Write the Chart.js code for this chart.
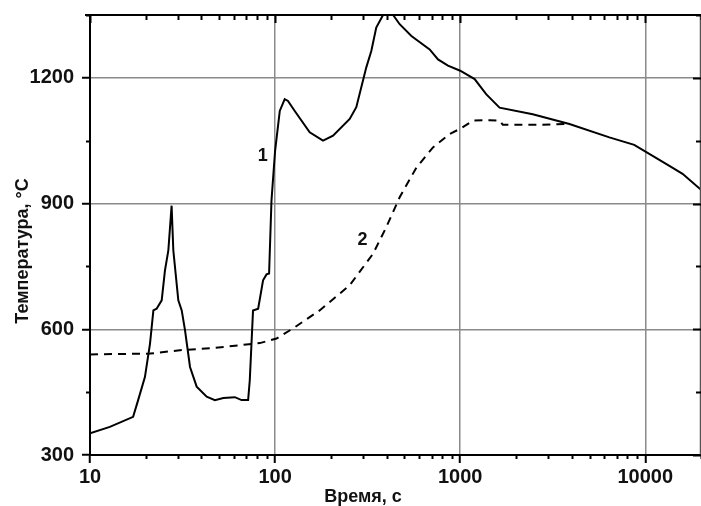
<!DOCTYPE html>
<html>
<head>
<meta charset="utf-8">
<script src="https://cdn.jsdelivr.net/npm/chart.js@4.4.1/dist/chart.umd.min.js"></script>
<style>
  html, body { margin: 0; padding: 0; background: #fff; }
  #wrap { width: 701px; height: 506px; position: relative; }
</style>
</head>
<body>
<div id="wrap"><canvas id="chart"></canvas></div>
<script>
// curve 1 (solid)
const time1 = [10, 12.8, 17.1, 18.2, 19.8, 21.1, 22.0, 22.9, 24.4, 25.4, 26.5, 27.6, 28.2, 30.0, 31.3, 32.6, 34.7, 37.7, 42.7, 47.3, 52.5, 60.6, 65.9, 71.5, 73.0, 76.0, 81, 86.1, 89.9, 92.8, 95.6, 100, 106, 112.7, 117.4, 127.7, 153.8, 181.5, 205.6, 253, 274.6, 311, 331, 352, 383, 434, 471, 545, 684, 759, 859, 1000, 1197, 1381, 1632, 2466, 3893, 6398, 8714, 10960, 13500, 15900, 20000];
const temp1 = [352, 367, 391, 431, 486, 566, 645, 649, 669, 740, 788, 895, 788, 669, 645, 598, 510, 463, 439, 431, 436, 438, 431, 431, 479, 645, 649, 717, 731, 733, 907, 1026, 1121, 1149, 1145, 1121, 1070, 1050, 1062, 1102, 1130, 1225, 1264, 1320, 1350, 1350, 1328, 1300, 1268, 1244, 1229, 1217, 1197, 1161, 1129, 1113, 1090, 1058, 1040, 1014, 990, 971, 933];
// curve 2 (dashed)
const time2 = [10, 21.1, 30.6, 46.3, 64.6, 82.7, 101.8, 125, 174, 253, 338, 399, 471, 580, 713, 877, 1014, 1172, 1443, 1632, 1700, 2570, 3900];
const temp2 = [540, 542, 550, 555, 562, 567, 578, 602, 645, 705, 780, 844, 915, 986, 1034, 1066, 1080, 1098, 1099, 1098, 1088, 1088, 1090];

const xMajor = [10, 100, 1000, 10000];
const xMinor = [20, 30, 40, 50, 60, 70, 80, 90, 200, 300, 400, 500, 600, 700, 800, 900,
                2000, 3000, 4000, 5000, 6000, 7000, 8000, 9000, 20000];
const yMajor = [300, 600, 900, 1200];
const yMinor = [450, 750, 1050, 1350];
const xTitle = 'Время, с';
const yTitle = 'Температура, °C';
const curveLabels = [{ text: '1', x: 85.8, y: 1014 }, { text: '2', x: 297, y: 812 }];

const fontFamily = '"Liberation Sans", Arial, sans-serif';
const tickFont = { family: fontFamily, size: 20, weight: 'bold' };
const gridGray = '#8a8a8a';

const pts = (xs, ys) => xs.map((x, i) => ({ x: x, y: ys[i] }));

const decorPlugin = {
  id: 'decor',
  afterDraw(chart) {
    const c = chart.ctx, a = chart.chartArea;
    const xs = chart.scales.x, ys = chart.scales.y;
    c.save();
    c.strokeStyle = '#000';
    c.lineWidth = 2;
    // top border and right border
    c.beginPath();
    c.moveTo(a.left - 5, a.top); c.lineTo(a.right, a.top);
    c.stroke();
    c.strokeStyle = '#555';
    c.lineWidth = 1.5;
    c.beginPath();
    c.moveTo(a.right - 0.5, a.top); c.lineTo(a.right - 0.5, a.bottom);
    c.stroke();
    c.strokeStyle = '#000';
    c.lineWidth = 2;
    c.beginPath();
    xMinor.forEach(v => {
      const p = Math.round(xs.getPixelForValue(v)) + 0.5;
      c.moveTo(p, a.bottom); c.lineTo(p, a.bottom + 4);
      c.moveTo(p, a.top); c.lineTo(p, a.top + 5);
    });
    xMajor.forEach(v => {
      const p = Math.round(xs.getPixelForValue(v)) + 0.5;
      c.moveTo(p, a.top); c.lineTo(p, a.top + 8);
    });
    yMinor.forEach(v => {
      const p = Math.round(ys.getPixelForValue(v)) + 0.5;
      c.moveTo(a.left, p); c.lineTo(a.left - 4, p);
      c.moveTo(a.right, p); c.lineTo(a.right - 5, p);
    });
    yMajor.forEach(v => {
      const p = Math.round(ys.getPixelForValue(v)) + 0.5;
      c.moveTo(a.right, p); c.lineTo(a.right - 8, p);
    });
    c.stroke();

    // titles
    c.fillStyle = '#111';
    c.font = 'bold 18px ' + fontFamily;
    c.textAlign = 'center';
    c.textBaseline = 'middle';
    c.fillText(xTitle, 363, 497);
    c.save();
    c.translate(23, 251);
    c.rotate(-Math.PI / 2);
    c.fillText(yTitle, 0, 0);
    c.restore();

    // curve numbers
    c.font = 'bold 18px ' + fontFamily;
    curveLabels.forEach(l => {
      c.fillText(l.text, xs.getPixelForValue(l.x), ys.getPixelForValue(l.y));
    });
    c.restore();
  }
};

new Chart(document.getElementById('chart'), {
  type: 'line',
  data: {
    datasets: [{
      data: pts(time1, temp1),
      borderColor: '#000',
      borderWidth: 2,
      pointRadius: 0,
      tension: 0
    }, {
      data: pts(time2, temp2),
      borderColor: '#000',
      borderWidth: 2,
      borderDash: [8, 6],
      pointRadius: 0,
      tension: 0
    }]
  },
  options: {
    responsive: true,
    maintainAspectRatio: false,
    animation: false,
    layout: { padding: { top: 15, right: 0, left: 0, bottom: 0 } },
    plugins: { legend: { display: false }, tooltip: { enabled: false } },
    scales: {
      x: {
        type: 'logarithmic',
        min: 10,
        max: 20000,
        afterBuildTicks: s => { s.ticks = xMajor.concat(xMinor).sort((a, b) => a - b).map(v => ({ value: v })); },
        afterFit: s => { s.height = 51; s.paddingLeft = 0; s.paddingRight = 0; },
        border: { color: '#000', width: 2 },
        grid: {
          color: ctx => (ctx.tick && xMajor.includes(ctx.tick.value) && ctx.tick.value !== 10) ? gridGray : 'rgba(0,0,0,0)',
          lineWidth: 1.5,
          tickLength: 8,
          tickColor: ctx => (ctx.tick && xMajor.includes(ctx.tick.value)) ? '#000' : 'rgba(0,0,0,0)',
          tickWidth: 2
        },
        ticks: {
          autoSkip: false,
          maxRotation: 0,
          padding: 2,
          color: '#111',
          font: tickFont,
          callback: v => xMajor.includes(v) ? String(v) : ''
        }
      },
      y: {
        min: 300,
        max: 1350,
        afterBuildTicks: s => { s.ticks = yMajor.concat(yMinor).sort((a, b) => a - b).map(v => ({ value: v })); },
        afterFit: s => { s.width = 90; s.paddingTop = 0; s.paddingBottom = 0; },
        border: { color: '#000', width: 2 },
        grid: {
          color: ctx => (ctx.tick && yMajor.includes(ctx.tick.value) && ctx.tick.value !== 300) ? gridGray : 'rgba(0,0,0,0)',
          lineWidth: 1.5,
          tickLength: 8,
          tickColor: ctx => (ctx.tick && yMajor.includes(ctx.tick.value)) ? '#000' : 'rgba(0,0,0,0)',
          tickWidth: 2
        },
        ticks: {
          autoSkip: false,
          padding: 8,
          color: '#111',
          font: tickFont,
          callback: v => yMajor.includes(v) ? String(v) : ''
        }
      }
    }
  },
  plugins: [decorPlugin]
});
</script>
</body>
</html>
